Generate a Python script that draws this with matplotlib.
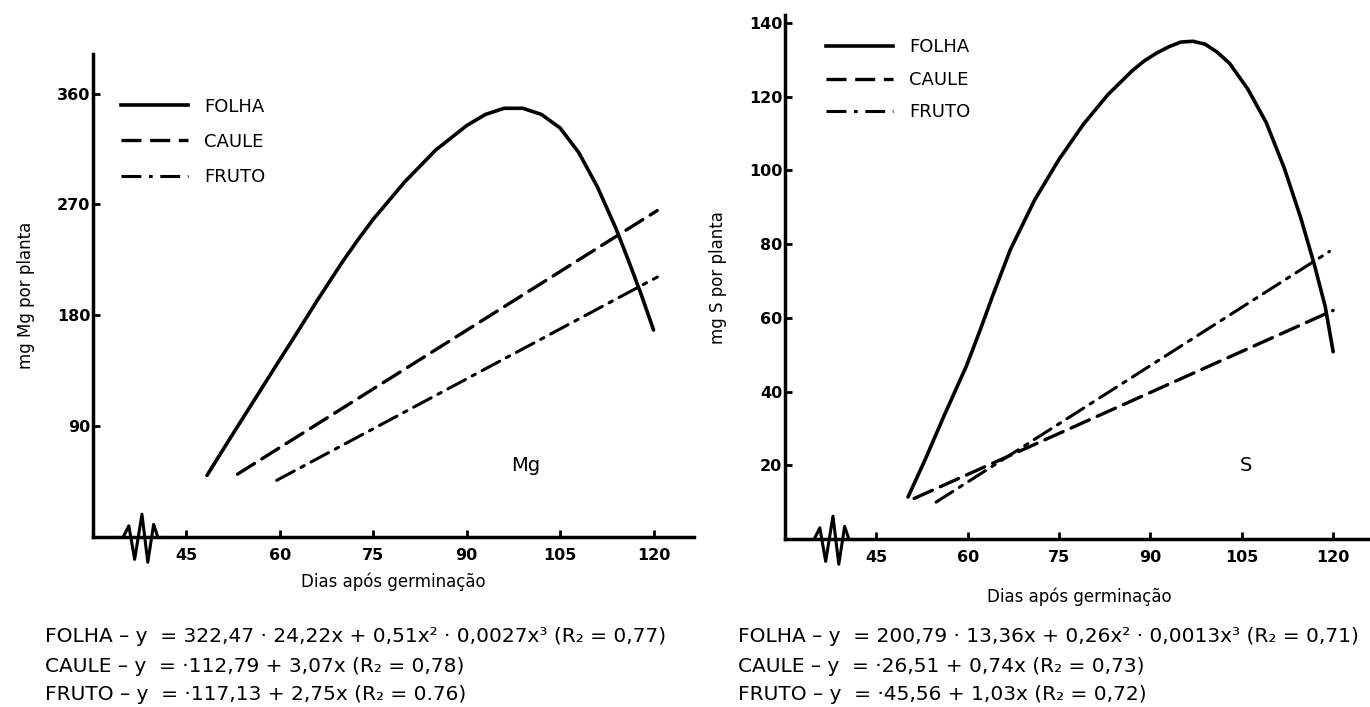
import numpy as np
import matplotlib
matplotlib.use("Agg")
import matplotlib.pyplot as plt
from matplotlib.lines import Line2D
from matplotlib.path import Path

# ---- data (dias, mg por planta) ----
mg_folha_x = [48.3, 52, 56, 60, 62.4, 66, 70, 72.5, 75, 80, 85, 90, 93, 96, 99, 102, 105, 108, 111, 114, 116, 118, 120]
mg_folha_y = [50, 80, 112, 144, 163, 192, 223, 241, 258, 288, 314, 334, 343, 348, 348, 343, 332, 312, 284, 250, 224, 197, 168]
mg_caule_x = [53.2, 120.6]
mg_caule_y = [51, 265]
mg_fruto_x = [59.5, 120.6]
mg_fruto_y = [46, 211]

s_folha_x = [50.2, 53, 56, 59.8, 62, 64.1, 67, 71, 75, 79, 83, 87, 89, 91, 93, 95, 97, 99, 101, 103, 106, 109, 112, 114.7, 116.9, 118.7, 120]
s_folha_y = [11.4, 21.5, 33, 47, 56.5, 66, 78.5, 92, 103, 112.5, 120.5, 127, 129.7, 131.8, 133.5, 134.8, 135, 134.2, 132, 129, 122, 113, 100.5, 87, 74.5, 63, 50.8]
s_caule_x = [51.2, 120]
s_caule_y = [11, 62]
s_fruto_x = [54.8, 119.4]
s_fruto_y = [10, 78]

x_ticks = [45, 60, 75, 90, 105, 120]
mg_yticks = [90, 180, 270, 360]
s_yticks = [20, 40, 60, 80, 100, 120, 140]
series_names = ["FOLHA", "CAULE", "FRUTO"]

mg_eqs = ["FOLHA – y  = 322,47 · 24,22x + 0,51x² · 0,0027x³ (R₂ = 0,77)",
          "CAULE – y  = ·112,79 + 3,07x (R₂ = 0,78)",
          "FRUTO – y  = ·117,13 + 2,75x (R₂ = 0.76)"]
s_eqs = ["FOLHA – y  = 200,79 · 13,36x + 0,26x² · 0,0013x³ (R₂ = 0,71)",
         "CAULE – y  = ·26,51 + 0,74x (R₂ = 0,73)",
         "FRUTO – y  = ·45,56 + 1,03x (R₂ = 0,72)"]

plt.rcParams['font.family'] = ['DejaVu Sans']

fig = plt.figure(figsize=(13.7, 7.07), dpi=100)
ax1 = fig.add_axes([0.0679, 0.2405, 0.4387, 0.683])
ax2 = fig.add_axes([0.573, 0.2376, 0.429, 0.7405])

styles = [dict(ls='-', lw=2.6), dict(ls=(0, (6, 2.6)), lw=2.4), dict(ls=(0, (6.5, 2.5, 1.2, 2.5)), lw=2.2)]

# zigzag for the axis break
zz = Path([(-20, 0), (-12, 0), (-8, 8), (-4, -15), (1, 16), (5, -17), (9, 9), (12, 0), (20, 0)],
          [Path.MOVETO] + [Path.LINETO] * 8)


def panel(ax, fx, fy, cx, cy, rx, ry, yticks, ylim, ylabel, tag, tagpos, legpos, labelspacing, xlpad):
    handles = []
    for (x, y), st in zip([(fx, fy), (cx, cy), (rx, ry)], styles):
        ax.plot(x, y, color='black', solid_capstyle='round', dash_capstyle='round',
                solid_joinstyle='round', **st)
        handles.append(Line2D([], [], color='black', **st))
    ax.set_xlim(30, 126.5)
    ax.set_ylim(*ylim)
    ax.set_xticks(x_ticks)
    ax.set_yticks(yticks)
    for sp in ['top', 'right']:
        ax.spines[sp].set_visible(False)
    for sp in ['left', 'bottom']:
        ax.spines[sp].set_linewidth(2.5)
    ax.tick_params(direction='in', length=5, width=2, pad=2)
    for lab in ax.get_xticklabels() + ax.get_yticklabels():
        lab.set_fontweight('heavy')
        lab.set_fontsize(11.5)
    ax.tick_params(axis='x', pad=8)
    ax.set_ylabel(ylabel, fontsize=12, labelpad=16)
    ax.set_xlabel("Dias após germinação", fontsize=12, labelpad=xlpad)
    ax.text(tagpos[0], tagpos[1], tag, fontsize=14, ha='center', va='center')
    ax.legend(handles, series_names, loc='upper left', bbox_to_anchor=legpos, frameon=False,
              handlelength=3.7, handletextpad=0.9, fontsize=13, labelspacing=labelspacing,
              borderaxespad=0)
    ax.plot([37.5], [0], marker=zz, markersize=42, color='black', mfc='none', mew=2.2,
            clip_on=False)


panel(ax1, mg_folha_x, mg_folha_y, mg_caule_x, mg_caule_y, mg_fruto_x, mg_fruto_y,
      mg_yticks, (0, 392), "mg Mg por planta", "Mg", (99.5, 58), (0.035, 0.925), 0.95, 7)
panel(ax2, s_folha_x, s_folha_y, s_caule_x, s_caule_y, s_fruto_x, s_fruto_y,
      s_yticks, (0, 142), "mg S por planta", "S", (105.6, 20), (0.058, 0.97), 0.8, 16)

for i, (a, b) in enumerate(zip(mg_eqs, s_eqs)):
    y = 1 - (637 + 29 * i) / 707
    fig.text(45 / 1370, y, a, fontsize=14.5, va='center', ha='left')
    fig.text(738 / 1370, y, b, fontsize=14.5, va='center', ha='left')

fig.savefig("out.png", dpi=100)
